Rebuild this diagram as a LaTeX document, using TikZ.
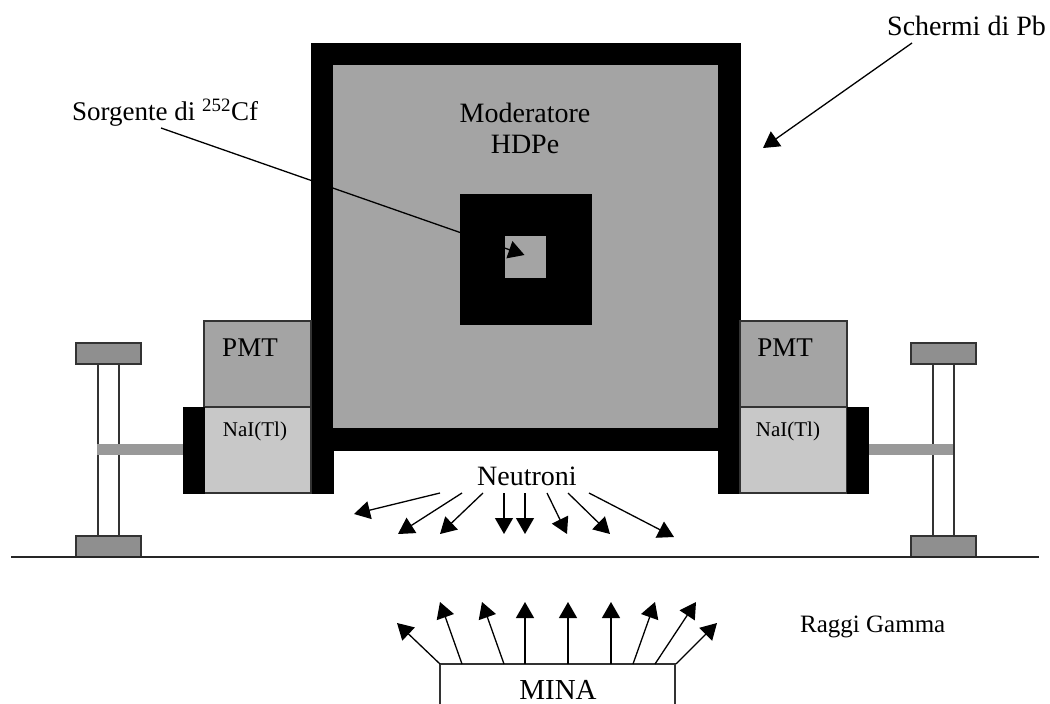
\documentclass[tikz,border=0pt]{standalone}
\usepackage{fontspec}
\setmainfont{Liberation Serif}
\usepackage{tikz}
\usetikzlibrary{arrows.meta, positioning}
\definecolor{modgray}{HTML}{A4A4A4}
\definecolor{naigray}{HTML}{C8C8C8}
\definecolor{platgray}{HTML}{8F8F8F}
\definecolor{bargray}{HTML}{999999}
\begin{document}
\begin{tikzpicture}[x=1pt,y=-1pt,
                    blk/.style={draw=black, fill=black, line width=1pt, inner sep=0pt},
                    mod/.style={draw=none, fill=modgray, inner sep=0pt},
                    pmt/.style={draw=black!80, fill=modgray, line width=1.2pt, inner sep=0pt, minimum width=107pt, minimum height=86pt},
                    nai/.style={draw=black!80, fill=naigray, line width=1.2pt, inner sep=0pt, minimum width=107pt, minimum height=86pt},
                    plate/.style={draw=black!80, fill=platgray, line width=1.2pt, inner sep=0pt, minimum width=65pt, minimum height=21pt},
                    lab/.style={font=\fontsize{28}{31}\selectfont, inner sep=0pt, align=center},
                    labs/.style={font=\fontsize{21}{25}\selectfont, inner sep=0pt},
                    arr/.style={-{Triangle[length=16pt,width=18pt]}, line width=1.3pt},
                    pole/.style={draw=black!80, line width=1.3pt},
                    bar/.style={draw=bargray, line width=11pt}]
        \useasboundingbox (0,0) rectangle (1050,704);
        % shielding and moderator
        \node[blk, minimum width=429pt, minimum height=407pt] (shield) at (525.5,246.5) {};
        \node[blk, minimum width=22pt, minimum height=50pt] (legl) at (322,468) {};
        \node[blk, minimum width=22pt, minimum height=50pt] (legr) at (729,468) {};
        \node[mod, minimum width=385pt, minimum height=363pt] (moder) at (525.5,246.5) {};
        \node[blk, minimum width=131pt, minimum height=130pt] (core) at (525.5,259) {};
        \node[mod, minimum width=41pt, minimum height=42pt] (src) at (525.5,257) {};
        \node[lab] (modlab) at (525,128) {Moderatore\\HDPe};
        % detectors
        \node[pmt] (pmtl) at (257.5,364) {};
        \node[pmt] (pmtr) at (793.5,364) {};
        \node[nai] (nail) at (257.5,450) {};
        \node[nai] (nair) at (793.5,450) {};
        \node[blk, minimum width=21pt, minimum height=86pt] (capl) at (193.5,450) {};
        \node[blk, minimum width=21pt, minimum height=86pt] (capr) at (857.5,450) {};
        \node[lab, font=\fontsize{27}{31}\selectfont] (pmtlabl) at (250,348) {PMT};
        \node[lab, font=\fontsize{27}{31}\selectfont] (pmtlabr) at (785,348) {PMT};
        \node[labs] (nailabl) at (255,431) {NaI(Tl)};
        \node[labs] (nailabr) at (788,431) {NaI(Tl)};
        % stands
        \node[plate] (topl) at (108.5,353.5) {};
        \node[plate] (botl) at (108.5,546.5) {};
        \node[plate] (topr) at (943.5,353.5) {};
        \node[plate] (botr) at (943.5,546.5) {};
        \foreach \t/\b/\d in {topl/botl/-10.5,topr/botr/-10.5,topl/botl/10.5,topr/botr/10.5}
            \draw[pole] ([xshift=\d pt]\t.south) -- ([xshift=\d pt]\b.north);
        \coordinate (barl) at (97,449.5);
        \coordinate (barr) at (953,449.5);
        \draw[bar] (barl) -- (barl -| capl.west);
        \draw[bar] (barr) -- (barr -| capr.east);
        % ground and mine
        \coordinate (gndl) at (11,557);
        \coordinate (gndr) at (1039,557);
        \draw[line width=1.3pt, black!85] (gndl) -- (gndr);
        \node[draw=black!80, line width=1.2pt, fill=white, minimum width=235pt, minimum height=80pt, inner sep=0pt] (mine) at (557.5,704) {};
        \node[lab, font=\fontsize{29}{31}\selectfont] (minelab) at (558,690) {MINA};
        % labels
        \node[lab, anchor=west, font=\fontsize{27}{31}\selectfont] (srclab) at (72,113) {Sorgente di \textsuperscript{252}Cf};
        \node[lab, anchor=west] (pblab) at (887,26) {Schermi di Pb};
        \node[lab] (neulab) at (527,476) {Neutroni};
        \node[lab, anchor=west, font=\fontsize{25}{31}\selectfont] (gamlab) at (800,627) {Raggi Gamma};
        \coordinate (srcs) at (161,128);
        \coordinate (pbs) at (912,43);
        \coordinate (pbe) at (763,148);
        \draw[arr] (srcs) -- ([xshift=-1pt,yshift=2pt]src.center);
        \draw[arr] (pbs) -- (pbe);
        % neutrons
        \foreach \x/\y/\u/\v in {440/493/354/514,462/493/398/534,483/493/440/534,504/493/504/534,525/493/525/534,547/493/567/534,568/493/610/534,589/493/674/537}
            \draw[arr] (\x,\y) -- (\u,\v);
        % gammas
        \foreach \x/\u/\v in {440/397/623,462/440/602,504/482/602,525/525/602,568/568/602,611/611/602,633/655/602,655/696/602,676/717/623}
            \draw[arr] (\x,664) -- (\u,\v);
\end{tikzpicture}
\end{document}
